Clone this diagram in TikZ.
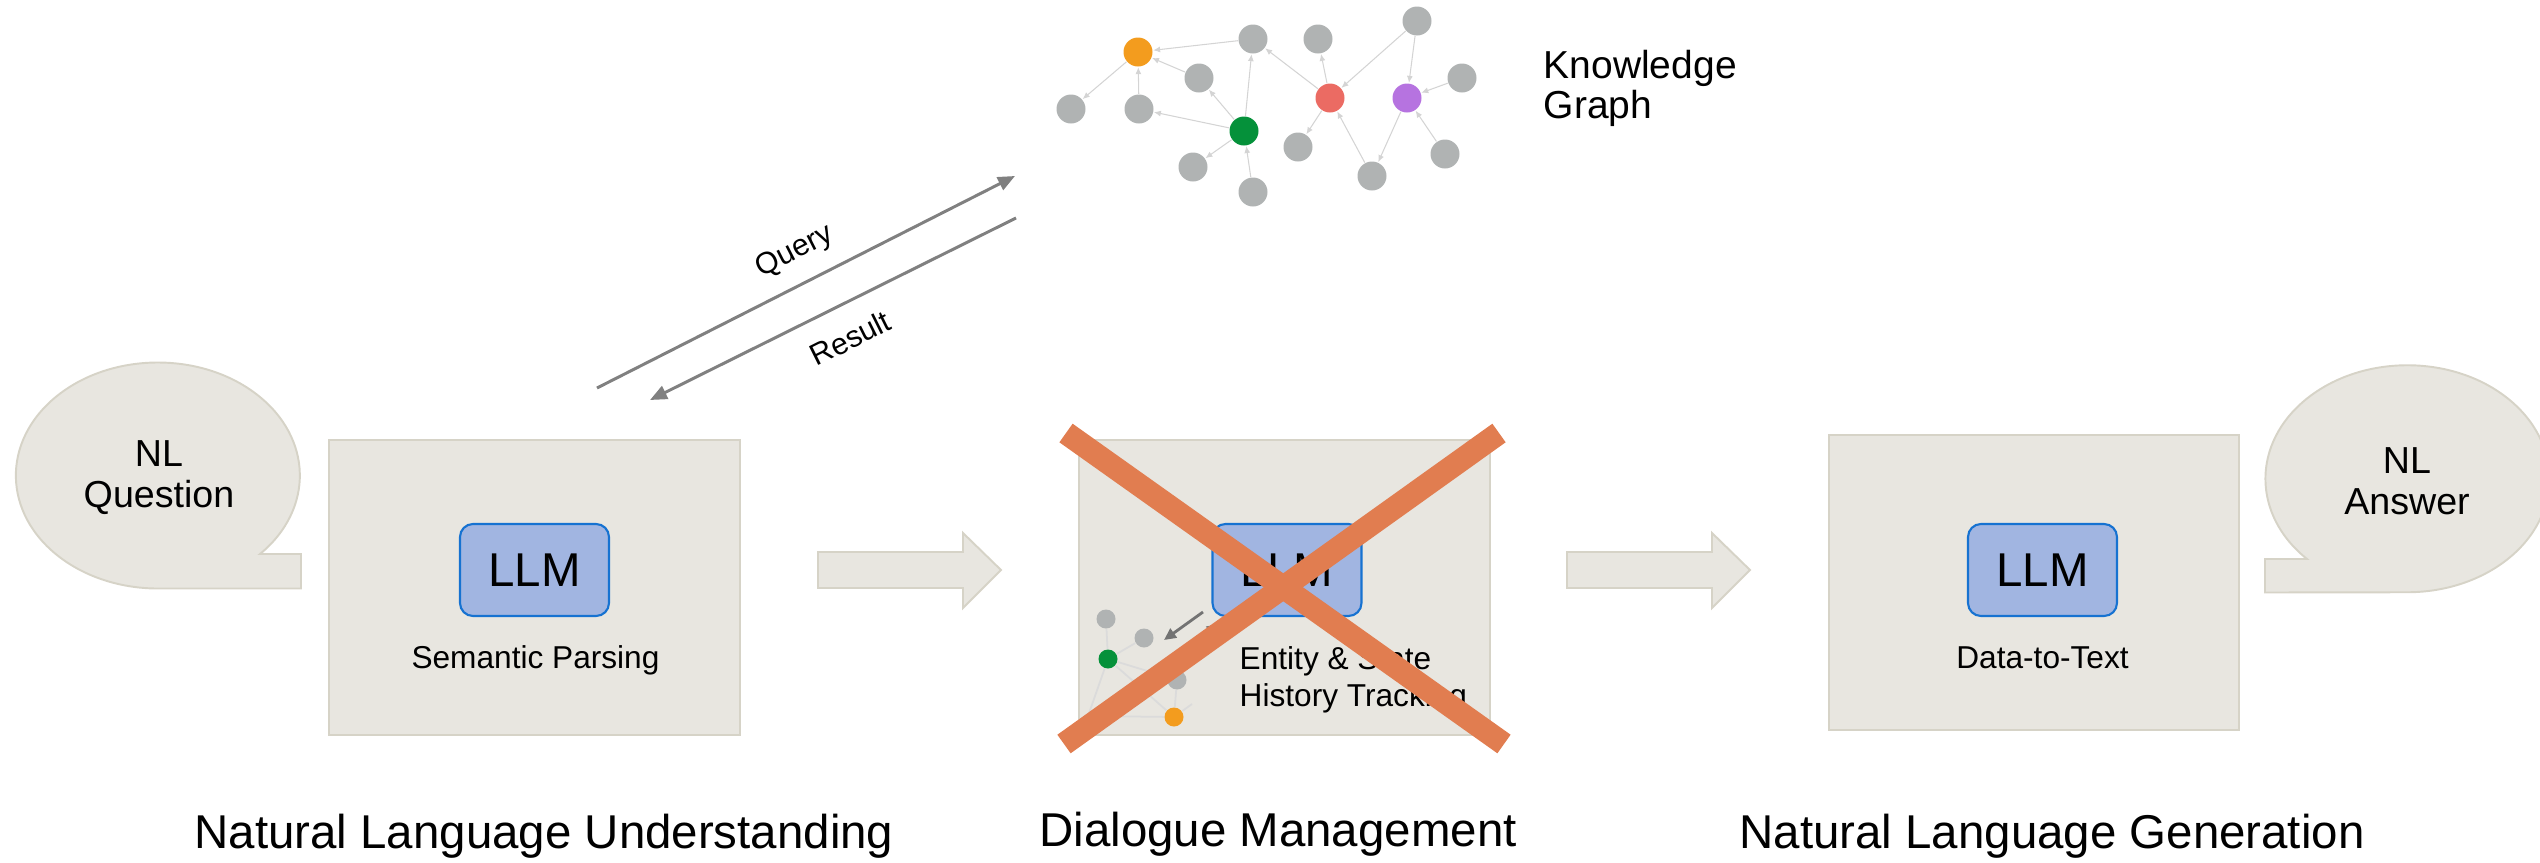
\documentclass[tikz,border=0pt]{standalone}
\usepackage{fontspec}
\setmainfont{Liberation Sans}
\usetikzlibrary{arrows.meta}

\definecolor{boxfill}{RGB}{232,230,224}
\definecolor{boxline}{RGB}{214,211,199}
\definecolor{llmfill}{RGB}{161,181,225}
\definecolor{llmline}{RGB}{22,114,209}
\definecolor{kggray}{RGB}{176,179,179}
\definecolor{kgorange}{RGB}{243,156,30}
\definecolor{kggreen}{RGB}{5,145,58}
\definecolor{kgred}{RGB}{235,107,99}
\definecolor{kgpurple}{RGB}{182,115,224}
\definecolor{crossred}{RGB}{225,125,80}
\definecolor{flowgray}{RGB}{128,128,128}

\tikzset{
  stagebox/.style={draw=boxline, fill=boxfill, line width=0.55pt, inner sep=0pt},
  llmbox/.style={draw=llmline, fill=llmfill, line width=0.6pt, rounded corners=1.3mm,
    minimum width=14.9mm, minimum height=9.2mm, inner sep=0pt,
    font=\fontsize{13.5}{16}\selectfont},
  subtext/.style={inner sep=0pt, font=\fontsize{9}{10.5}\selectfont},
  bubbletext/.style={inner sep=0pt, align=center, font=\fontsize{10.7}{11.7}\selectfont},
  stagetitle/.style={inner sep=0pt, font=\fontsize{13.5}{16}\selectfont},
  flowtext/.style={inner sep=0pt, font=\fontsize{8.6}{10}\selectfont},
  flowarrow/.style={draw=flowgray, line width=0.85pt, -{Triangle[length=1.7mm,width=1.4mm]}},
  kgnode/.style={circle, minimum size=2.9mm, inner sep=0pt, fill=kggray},
  kgedge/.style={draw=black!17, line width=0.3pt, -{Latex[length=0.7mm,width=0.6mm]}},
  minidot/.style={circle, minimum size=1.9mm, inner sep=0pt, fill=kggray},
  miniedge/.style={draw=black!14, line width=0.5pt},
  miniarrow/.style={draw=black!55, line width=0.8pt, -{Triangle[length=1.2mm,width=1.1mm]}},
  crossline/.style={draw=crossred, line width=6.5pt}
}

\begin{document}
\begin{tikzpicture}[x=0.1mm, y=-0.1mm]
\clip (0,0) rectangle (2540,862);

% speech bubbles
\draw[stagebox] (260,554) arc[start angle=-44, end angle=270, x radius=14.2mm, y radius=11.3mm]
  -- (301,588.5) -- (301,554) -- cycle;
\node[bubbletext] (question) at (159,478) {NL\\Question};
\draw[stagebox] (2307,559) arc[start angle=225, end angle=-90, x radius=14.2mm, y radius=11.35mm]
  -- (2265,592.5) -- (2265,559) -- cycle;
\node[bubbletext] (answer) at (2407,481) {NL\\Answer};

% the three stages
\node[stagebox, minimum width=41.1mm, minimum height=29.5mm] (nlu) at (534.5,587.5) {};
\node[stagebox, minimum width=41.1mm, minimum height=29.5mm] (dm) at (1284.5,587.5) {};
\node[stagebox, minimum width=41.0mm, minimum height=29.5mm] (nlg) at (2034,582.5) {};

\node[llmbox] (llmnlu) at (534.5,570) {LLM};
\node[llmbox] (llmdm) at (1287,570) {LLM};
\node[llmbox] (llmnlg) at (2042.5,570) {LLM};

\node[subtext] (parsing) at (535.5,660) {Semantic Parsing};
\node[subtext, anchor=west, align=left] (tracking) at (1239,679.5) {Entity \& State\\History Tracking};
\node[subtext] (datatext) at (2042.5,658) {Data-to-Text};

% block arrows between the stages
\foreach \x in {818,1567}
  \draw[stagebox] (\x,552) -- ++(145,0) -- ++(0,-19) -- ++(38,37) -- ++(-38,38)
    -- ++(0,-20) -- ++(-145,0) -- cycle;

% small graph in the dialogue box
\node[minidot] (sa) at (1106,619) {};
\node[minidot] (sb) at (1144,638) {};
\node[minidot, fill=kggreen] (sg) at (1108,659) {};
\node[minidot] (sc) at (1177,680) {};
\node[minidot, fill=kgorange] (so) at (1174,717) {};
\coordinate (sx) at (1088,716);
\coordinate (sy) at (1192,704);
\draw[miniedge] (sa) -- (sg);
\draw[miniedge] (sg) -- (sb);
\draw[miniedge] (sg) -- (sc);
\draw[miniedge] (sg) -- (so);
\draw[miniedge] (sc) -- (so);
\draw[miniedge] (sg) -- (sx) -- (so) -- (sy);

\coordinate (ma) at (1203,612);
\coordinate (mb) at (1164,640);
\coordinate (mc) at (1182,652);
\coordinate (md) at (1219,624);
\draw[miniarrow] (ma) -- (mb);
\draw[miniarrow] (mc) -- (md);

% crossed out
\coordinate (xa) at (1066,433);
\coordinate (xb) at (1504,744);
\coordinate (xc) at (1064,744);
\coordinate (xd) at (1499,433);
\draw[crossline] (xa) -- (xb);
\draw[crossline] (xc) -- (xd);

% knowledge graph
\node[kgnode, fill=kgorange] (or) at (1138,52) {};
\node[kgnode, fill=kggreen] (gr) at (1244,131) {};
\node[kgnode, fill=kgred] (rd) at (1330,98) {};
\node[kgnode, fill=kgpurple] (pu) at (1407,98) {};
\foreach \n/\x/\y in {a/1253/39, b/1318/39, c/1417/21, d/1199/78, e/1071/109,
    f/1139/109, g/1462/78, h/1298/147, i/1193/167, j/1253/192, k/1372/176, l/1445/154}
  \node[kgnode] (\n) at (\x,\y) {};
\foreach \u/\v in {a/or, d/or, f/or, or/e, gr/f, gr/d, gr/a, gr/i, j/gr, rd/a,
    rd/b, c/rd, rd/h, k/rd, c/pu, g/pu, l/pu, pu/k}
  \draw[kgedge] (\u) -- (\v);
\node[inner sep=0pt, anchor=west, align=left, font=\fontsize{11.1}{11.4}\selectfont] (kglabel)
  at (1543,88) {Knowledge\\Graph};

% query and result
\coordinate (qs) at (597,388);
\coordinate (qe) at (1015,176);
\coordinate (rs) at (1016,218);
\coordinate (re) at (650,400);
\draw[flowarrow] (qs) -- (qe);
\draw[flowarrow] (rs) -- (re);
\node[flowtext, rotate=27] (query) at (795,252) {Query};
\node[flowtext, rotate=26.5] (result) at (850,338) {Result};

% stage titles
\node[stagetitle] (nlutitle) at (544,836) {Natural Language Understanding};
\node[stagetitle] (dmtitle) at (1278,834) {Dialogue Management};
\node[stagetitle] (nlgtitle) at (2052,836) {Natural Language Generation};
\end{tikzpicture}
\end{document}
